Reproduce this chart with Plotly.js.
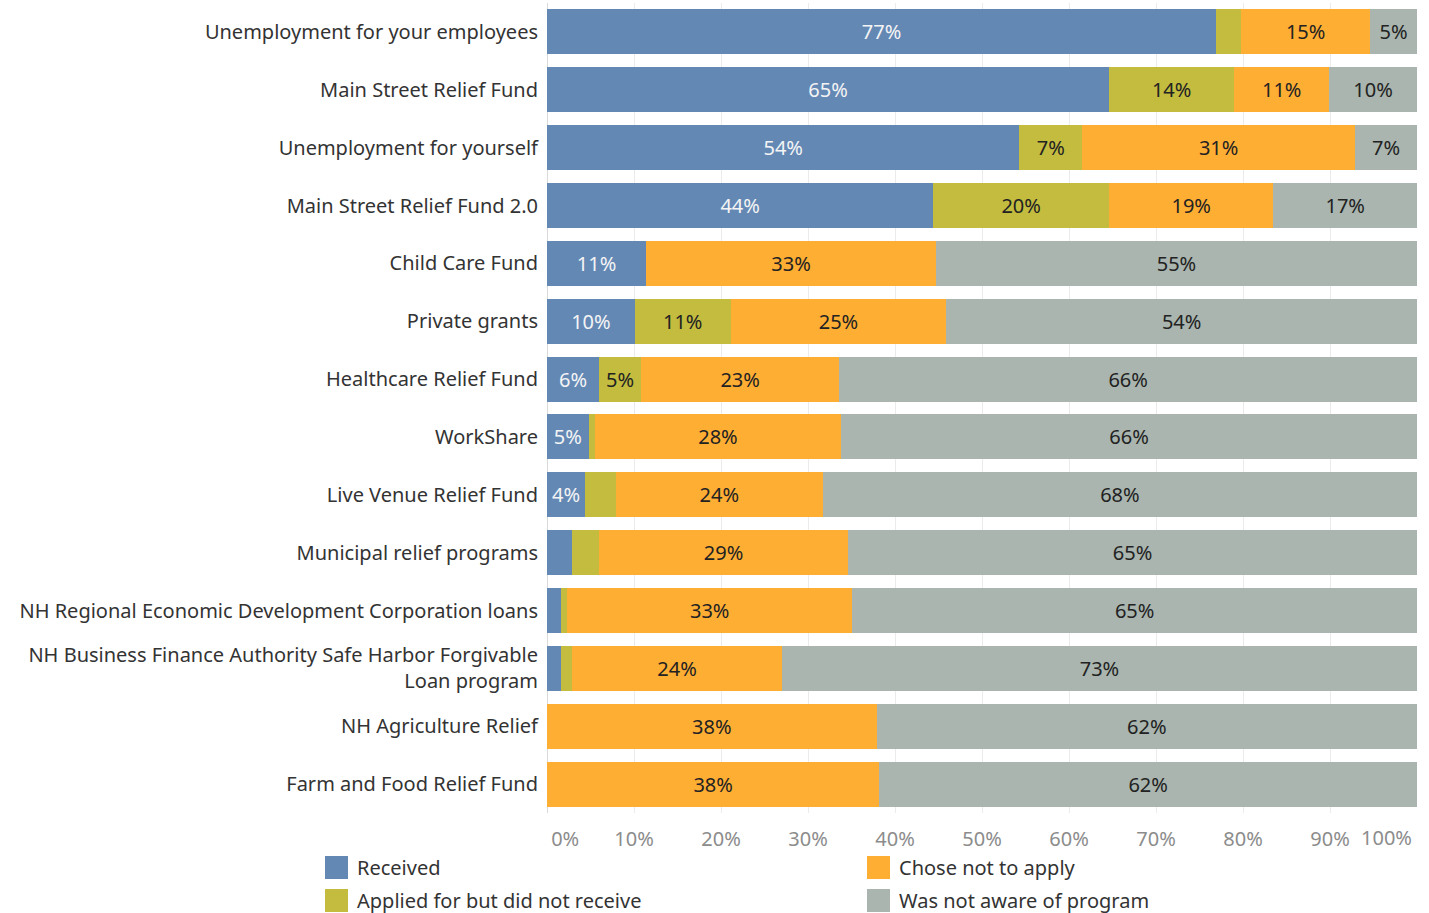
<!DOCTYPE html>
<html>
<head>
<meta charset="utf-8">
<script src="https://cdn.plot.ly/plotly-3.0.1.min.js"></script>
<style>html,body{margin:0;padding:0;background:#fff;}#chart{width:1429px;height:913px;}</style>
</head>
<body>
<div id="chart"></div>
<script>
const categories = [
  "Unemployment for your employees",
  "Main Street Relief Fund",
  "Unemployment for yourself",
  "Main Street Relief Fund 2.0",
  "Child Care Fund",
  "Private grants",
  "Healthcare Relief Fund",
  "WorkShare",
  "Live Venue Relief Fund",
  "Municipal relief programs",
  "NH Regional Economic Development Corporation loans",
  "NH Business Finance Authority Safe Harbor Forgivable<br>Loan program",
  "NH Agriculture Relief",
  "Farm and Food Relief Fund"
];
const received      = [76.9, 64.6, 54.3, 44.4, 11.4, 10.1, 6.0, 4.8, 4.4, 2.9, 1.6, 1.6, 0, 0];
const appliedNotRec = [2.9, 14.4, 7.2, 20.2, 0, 11.0, 4.8, 0.7, 3.5, 3.1, 0.7, 1.3, 0, 0];
const choseNot      = [14.8, 10.9, 31.4, 18.9, 33.3, 24.8, 22.8, 28.3, 23.8, 28.6, 32.8, 24.1, 37.9, 38.2];
const notAware      = [5.4, 10.1, 7.1, 16.5, 55.3, 54.1, 66.4, 66.2, 68.3, 65.4, 64.9, 73.0, 62.1, 61.8];
const xTickVals  = [0, 10, 20, 30, 40, 50, 60, 70, 80, 90, 100];
const xTickText  = ["0%", "10%", "20%", "30%", "40%", "50%", "60%", "70%", "80%", "90%", "100%"];
const legendOrder = ["Received", "Chose not to apply", "Applied for but did not receive", "Was not aware of program"];

const series = [
  {name: "Received", values: received, color: "#6388b4", textColor: "#f4f4f4"},
  {name: "Applied for but did not receive", values: appliedNotRec, color: "#c3bc3f", textColor: "#222222"},
  {name: "Chose not to apply", values: choseNot, color: "#ffae34", textColor: "#222222"},
  {name: "Was not aware of program", values: notAware, color: "#a9b5ae", textColor: "#222222"}
];

const FONT = "Noto Sans, sans-serif";
const TICKFONT = {family: FONT, size: 20, color: "#8c8c8c"};
const W = 1429, H = 913;
const M = {l: 547, r: 12, t: 3, b: 100};
const plotW = W - M.l - M.r, plotH = H - M.t - M.b;
const px2x = px => (px - M.l) / plotW;
const py2y = py => (H - M.b - py) / plotH;

// first tick label nudged right (padding), last one drawn as an annotation anchored at its right
const lastIdx = xTickText.length - 1;
const tickText = xTickText.map((t, i) => i === 0 ? "\u00a0".repeat(7) + t : (i === lastIdx ? "" : t));

const traces = series.map(s => ({
  type: "bar",
  orientation: "h",
  name: s.name,
  y: categories,
  x: s.values,
  text: s.values.map(v => v >= 4 ? Math.round(v) + "%" : ""),
  textposition: "inside",
  insidetextanchor: "middle",
  constraintext: "none",
  textfont: {family: FONT, size: 20, color: s.textColor},
  marker: {color: s.color, line: {width: 0}},
  showlegend: false,
  hoverinfo: "name+x"
}));

const shapes = [], annotations = [];
// last x tick label
annotations.push({xref: "x", yref: "paper", x: xTickVals[lastIdx], y: 0, yanchor: "top",
  xanchor: "right", xshift: -3, yshift: -9, showarrow: false, text: xTickText[lastIdx], font: TICKFONT});

// custom legend (2 columns, large swatches)
legendOrder.forEach((name, i) => {
  const s = series.find(d => d.name === name);
  const col = i % 2, row = Math.floor(i / 2);
  const sx = 325 + col * 542, sy = 856 + row * 33;
  shapes.push({type: "rect", xref: "paper", yref: "paper",
    x0: px2x(sx), x1: px2x(sx + 23), y0: py2y(sy + 23), y1: py2y(sy),
    fillcolor: s.color, line: {width: 0}, layer: "above"});
  annotations.push({xref: "paper", yref: "paper", x: px2x(sx + 30), y: py2y(sy + 11),
    xanchor: "left", yanchor: "middle", showarrow: false, text: name,
    font: {family: FONT, size: 20, color: "#333333"}});
});

const layout = {
  width: W,
  height: H,
  barmode: "stack",
  bargap: 0.22,
  paper_bgcolor: "#ffffff",
  plot_bgcolor: "#ffffff",
  margin: M,
  font: {family: FONT, size: 20, color: "#333333"},
  xaxis: {
    range: [0, 100],
    tickvals: xTickVals,
    ticktext: tickText,
    showgrid: true,
    gridcolor: "#ebebeb",
    gridwidth: 1,
    zeroline: true,
    zerolinecolor: "#d9d9d9",
    tickfont: TICKFONT,
    ticks: "",
    ticklabelstandoff: 12,
    fixedrange: true
  },
  yaxis: {
    autorange: "reversed",
    ticks: "",
    ticklabelstandoff: 8,
    tickfont: {family: FONT, size: 20, color: "#333333"},
    showgrid: false,
    fixedrange: true
  },
  showlegend: false,
  shapes: shapes,
  annotations: annotations
};

Plotly.newPlot("chart", traces, layout, {displayModeBar: false});
</script>
</body>
</html>
